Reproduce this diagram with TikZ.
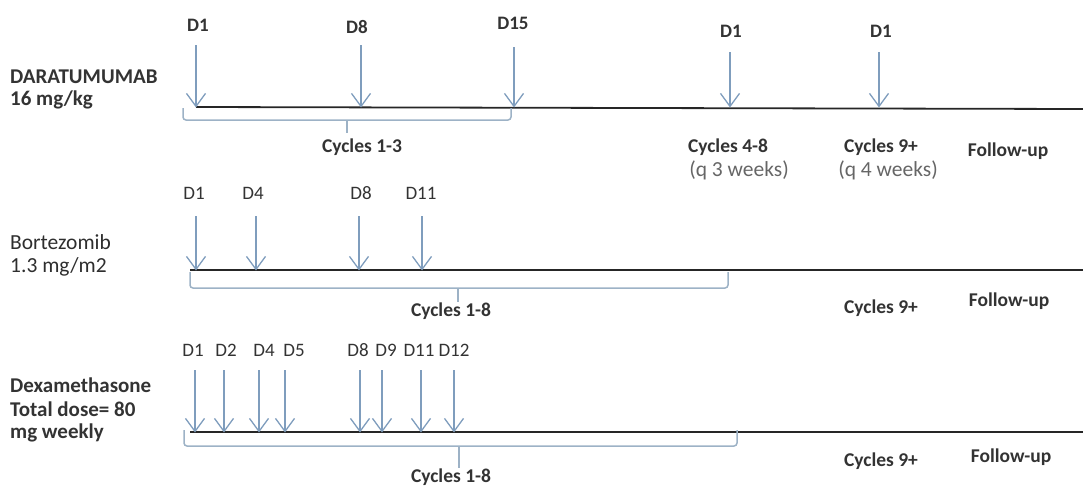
\documentclass[tikz,border=0pt]{standalone}
\usepackage{fontspec}
\setmainfont{Carlito}
\usetikzlibrary{arrows.meta}
\definecolor{arrowblue}{HTML}{7F9DBD}
\definecolor{braceblue}{HTML}{9DB2C6}
\definecolor{ink}{HTML}{333333}
\begin{document}
\begin{tikzpicture}[x=1pt,y=-1pt,
  lbl/.style={font=\fontsize{19.5}{22}\selectfont\bfseries, text=ink, inner sep=0pt},
  drug/.style={font=\fontsize{21}{24}\selectfont\bfseries, text=ink, inner sep=0pt, anchor=west},
  drugreg/.style={font=\fontsize{21.5}{24}\selectfont, text=ink!90!black, inner sep=0pt, anchor=west},
  dbold/.style={font=\fontsize{19}{22}\selectfont\bfseries, text=ink, inner sep=0pt},
  dreg/.style={font=\fontsize{19}{22}\selectfont, text=ink, inner sep=0pt},
  qlbl/.style={font=\fontsize{21.5}{24}\selectfont, text=black!60, inner sep=0pt},
  dose/.style={draw=arrowblue, line width=1.3pt, -{Straight Barb[length=13pt,width=19pt,line width=1.3pt]}},
  tl/.style={draw=black!85, line width=1.8pt},
  brace/.style={draw=braceblue, line width=1.5pt, rounded corners=3pt},
]
\useasboundingbox (0,0) rectangle (1083,488);

% ---------------- Row 1: Daratumumab ----------------
\node[drug] (dara) at (10,77) {DARATUMUMAB};
\node[drug] (daradose) at (10,100) {16 mg/kg};
\coordinate (t1s) at (196,107);
\coordinate (t1e) at (1083,109);
\draw[tl] (t1s) -- (t1e);
\foreach \x/\lx/\ly/\top/\t/\n in {196/198/25/45/D1/a, 361/357/27/45/D8/b, 514/513/23/47/D15/c, 730/731/31/52/D1/d, 879/881/31/52/D1/e}{
  \node[dbold] (r1l\n) at (\lx,\ly) {\t};
  \coordinate (r1a\n) at (\x,\top);
  \coordinate (r1b\n) at (\x,107.5);
  \draw[dose] (r1a\n) -- (r1b\n);
}
\coordinate (b1l) at (183,108);
\coordinate (b1r) at (511,108);
\draw[brace] (b1l) -- ++(0,12) -| (b1r);
\coordinate (b1t) at (347,120);
\draw[brace] (b1t) -- ++(0,13);
\node[lbl] (c13) at (362,147) {Cycles 1-3};
\node[lbl] (c48) at (728,147) {Cycles 4-8};
\node[lbl] (c9a) at (881,147) {Cycles 9+};
\node[lbl] (fu1) at (1008,151) {Follow-up};
\node[qlbl] (q3) at (739,170) {(q 3 weeks)};
\node[qlbl] (q4) at (888,170) {(q 4 weeks)};

% ---------------- Row 2: Bortezomib ----------------
\node[drugreg] (bort) at (10,242) {Bortezomib};
\node[drugreg] (bortdose) at (10,267) {1.3 mg/m2};
\coordinate (t2s) at (190,270);
\coordinate (t2e) at (1083,270);
\draw[tl] (t2s) -- (t2e);
\foreach \x/\lx/\t/\n in {196/194/D1/a, 256/253/D4/b, 359/361/D8/c, 422/421/D11/d}{
  \node[dreg] (r2l\n) at (\lx,193) {\t};
  \coordinate (r2a\n) at (\x,216);
  \coordinate (r2b\n) at (\x,270.5);
  \draw[dose] (r2a\n) -- (r2b\n);
}
\coordinate (b2l) at (190,272);
\coordinate (b2r) at (728,272);
\draw[brace] (b2l) -- ++(0,16) -| (b2r);
\coordinate (b2t) at (458,288);
\draw[brace] (b2t) -- ++(0,14);
\node[lbl] (c18a) at (451,311) {Cycles 1-8};
\node[lbl] (c9b) at (881,308) {Cycles 9+};
\node[lbl] (fu2) at (1009,301) {Follow-up};

% ---------------- Row 3: Dexamethasone ----------------
\node[drug] (dexa) at (10,385) {Dexamethasone};
\node[drug] (dexb) at (10,409) {Total dose= 80};
\node[drug] (dexc) at (10,433) {mg weekly};
\coordinate (t3s) at (190,432);
\coordinate (t3e) at (1083,432);
\draw[tl] (t3s) -- (t3e);
\foreach \x/\lx/\t/\n in {195/193/D1/a, 224/226/D2/b, 259/264/D4/c, 285/294/D5/d, 360/358/D8/e, 382/386/D9/f, 421/419/D11/g, 454/454/D12/h}{
  \node[dreg] (r3l\n) at (\lx,350) {\t};
  \coordinate (r3a\n) at (\x,370);
  \coordinate (r3b\n) at (\x,432.5);
  \draw[dose] (r3a\n) -- (r3b\n);
}
\coordinate (b3l) at (184,430);
\coordinate (b3r) at (737,430);
\draw[brace] (b3l) -- ++(0,16) -| (b3r);
\coordinate (b3t) at (459,446);
\draw[brace] (b3t) -- ++(0,22);
\node[lbl] (c18b) at (451,477) {Cycles 1-8};
\node[lbl] (c9c) at (881,461) {Cycles 9+};
\node[lbl] (fu3) at (1011,457) {Follow-up};
\end{tikzpicture}
\end{document}
